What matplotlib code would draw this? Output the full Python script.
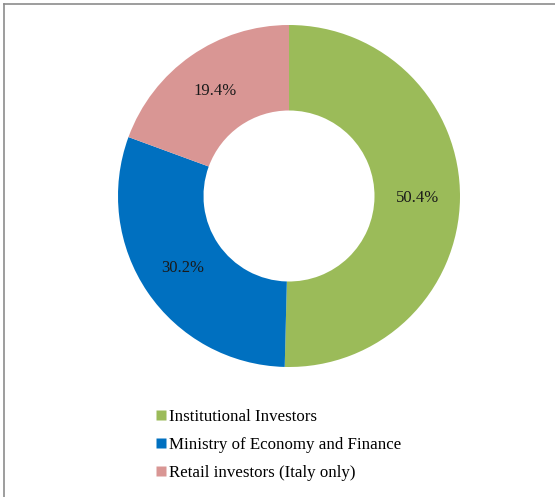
import matplotlib
matplotlib.use("Agg")
import matplotlib.pyplot as plt
from matplotlib.lines import Line2D

labels = ["Institutional Investors", "Ministry of Economy and Finance", "Retail investors (Italy only)"]
shares = [50.4, 30.2, 19.4]
colors = ["#9BBB59", "#0070C0", "#D99694"]

plt.rcParams['font.family'] = ['Liberation Serif', 'DejaVu Serif']

fig = plt.figure(figsize=(5.55, 4.97), dpi=100)

# donut
axes = fig.add_axes([118 / 555, 1 - 367 / 497, 342 / 555, 342 / 497])
wedges, texts, autotexts = axes.pie(
    shares, colors=colors, startangle=90, counterclock=False,
    autopct='%.1f%%', pctdistance=0.75,
    wedgeprops=dict(width=0.5, edgecolor='none'),
    textprops=dict(fontsize=12, color='#1a1a1a'))
axes.set_xlim(-1.0, 1.0)
axes.set_ylim(-1.0, 1.0)
axes.set_aspect('equal')

# legend
handles = [Line2D([0], [0], marker='s', linestyle='none', markersize=7,
                  markerfacecolor=c, markeredgecolor='none') for c in colors]
fig.legend(handles, labels, loc='upper left', bbox_to_anchor=(150 / 555, 1 - 402 / 497),
           frameon=False, fontsize=12.2, handlelength=0.5, handletextpad=0.25,
           labelspacing=0.72, borderaxespad=0)

# grey border on top and left edge
fig.add_artist(Line2D([4 / 555, 4 / 555], [0, 1 - 4 / 497], color='#8c8c8c', lw=1.2))
fig.add_artist(Line2D([4 / 555, 1], [1 - 4 / 497, 1 - 4 / 497], color='#8c8c8c', lw=1.2))

fig.savefig("out.png", dpi=100)
